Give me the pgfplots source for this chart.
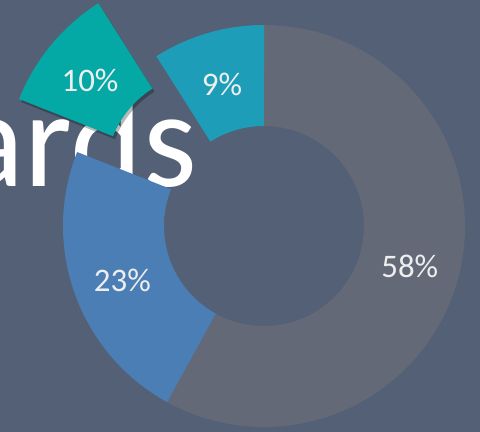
\documentclass[border=0pt]{standalone}
\usepackage{pgfplots}
\pgfplotsset{compat=1.18}
\usepackage{fontspec}
\setmainfont{Carlito}
\definecolor{bg}{HTML}{536075}
\definecolor{cgray}{HTML}{646978}
\definecolor{cblue}{HTML}{4A7EB5}
\definecolor{cteal}{HTML}{04A9A5}
\definecolor{ccyan}{HTML}{1E9DB8}
\definecolor{lbl}{HTML}{EEEEEE}
\begin{document}
\begin{tikzpicture}
\fill[bg] (0,0) rectangle (480bp,432bp);
\begin{axis}[at={(0,0)}, anchor=south west, x=1bp, y=1bp,
  xmin=0, xmax=480, ymin=0, ymax=432, hide axis, clip=false]
\node[anchor=base east, inner sep=0pt, text=white,
  font=\fontsize{138}{138}\selectfont] at (axis cs:197,245) {ards};
\def\cx{264}\def\cy{206}\def\Ro{201}\def\Ri{100}\def\Rm{150.5}
% start (%) / value (%) / colour / explode shift x / explode shift y (bp)
\foreach \s/\v/\c/\ex/\ey in {0/58/cgray/0/0, 58/23/cblue/0/0, 81/10/cteal/-58/53, 91/9/ccyan/0/0}{
  \pgfmathsetmacro\aS{90-3.6*\s}
  \pgfmathsetmacro\aE{90-3.6*(\s+\v)}
  \pgfmathsetmacro\aM{(\aS+\aE)/2}
  \pgfmathsetmacro\ox{\cx+\ex}
  \pgfmathsetmacro\oy{\cy+\ey}
  \pgfmathsetmacro\px{\ox+\Ro*cos(\aS)}
  \pgfmathsetmacro\py{\oy+\Ro*sin(\aS)}
  \pgfmathsetmacro\qx{\ox+\Ri*cos(\aE)}
  \pgfmathsetmacro\qy{\oy+\Ri*sin(\aE)}
  \pgfmathsetmacro\lx{\ox+\Rm*cos(\aM)}
  \pgfmathsetmacro\ly{\oy+\Rm*sin(\aM)-3}
  \pgfmathsetmacro\sh{ifthenelse(\ey>0,0.28,0)}
  \edef\temp{%
    \noexpand\fill[black, opacity=\sh] (axis cs:\px+2,\py-3) arc[start angle=\aS, end angle=\aE, radius=\Ro bp] -- (axis cs:\qx+2,\qy-3) arc[start angle=\aE, end angle=\aS, radius=\Ri bp] -- cycle;
    \noexpand\fill[\c] (axis cs:\px,\py) arc[start angle=\aS, end angle=\aE, radius=\Ro bp] -- (axis cs:\qx,\qy) arc[start angle=\aE, end angle=\aS, radius=\Ri bp] -- cycle;
    \noexpand\node[text=lbl, font=\noexpand\fontsize{33}{33}\noexpand\selectfont] at (axis cs:\lx,\ly) {\v\noexpand\%};
  }
  \temp
}
\end{axis}
\pgfresetboundingbox
\useasboundingbox (0,0) rectangle (480bp,432bp);
\end{tikzpicture}
\end{document}
